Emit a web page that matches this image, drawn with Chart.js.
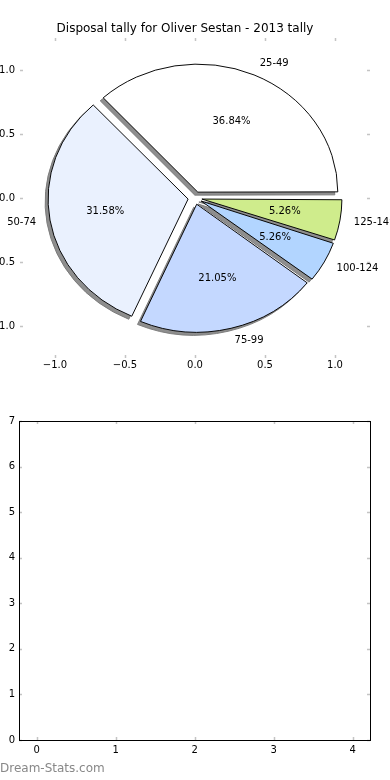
<!DOCTYPE html>
<html>
<head>
<meta charset="utf-8">
<script src="https://cdn.jsdelivr.net/npm/chart.js@4.4.1/dist/chart.umd.min.js"></script>
<style>
  html, body { margin: 0; padding: 0; background: #fff; }
  #wrap { position: relative; width: 390px; height: 780px; overflow: hidden; }
  .layer { position: absolute; left: 0; }
  #mark { position: absolute; left: 0; top: 761px; font: 12px "DejaVu Sans", sans-serif; color: #888; }
</style>
</head>
<body>
<div id="wrap">
  <div class="layer" style="top:0;width:390px;height:380px"><canvas id="axesTop"></canvas></div>
  <div class="layer" style="top:0;width:390px;height:380px"><canvas id="pieShadow"></canvas></div>
  <div class="layer" style="top:0;width:390px;height:380px"><canvas id="pie"></canvas></div>
  <div class="layer" style="top:380px;width:390px;height:400px"><canvas id="empty"></canvas></div>
  <div id="mark">Dream-Stats.com</div>
</div>
<script>
const title = 'Disposal tally for Oliver Sestan - 2013 tally';
const categories = ['25-49', '50-74', '75-99', '100-124', '125-149'];
const tally = [7, 6, 4, 1, 1];
const sliceColors = ['#ffffff', '#eaf1fe', '#c4d8ff', '#b2d5ff', '#cfec8c'];

// pie axes (matplotlib leaves them on)
const pieTicks = [-1, -0.5, 0, 0.5, 1];
const pieLimit = 1.25;
// empty second subplot
const xTicks = [0, 1, 2, 3, 4];
const yTicks = [0, 1, 2, 3, 4, 5, 6, 7];
const xRange = [-0.224, 4.22];
const yRange = [0, 7];

Chart.defaults.font.family = '"DejaVu Sans", sans-serif';
Chart.defaults.font.size = 10;
Chart.defaults.color = '#000';

const fmt = v => (v < 0 ? '\u2212' + Math.abs(v).toFixed(1) : v.toFixed(1));

// inward tick marks on all four sides, like matplotlib classic
const tickMarks = {
  id: 'tickMarks',
  afterDraw(chart, args, opts) {
    const { ctx, chartArea: a, scales } = chart;
    const len = 3;
    ctx.save();
    ctx.strokeStyle = '#c4c4c4';
    ctx.lineWidth = 1.5;
    ctx.beginPath();
    scales.x.ticks.forEach(t => {
      const px = Math.round(scales.x.getPixelForValue(t.value)) + 0.5;
      ctx.moveTo(px, a.top); ctx.lineTo(px, a.top + len);
      ctx.moveTo(px, a.bottom); ctx.lineTo(px, a.bottom - len);
    });
    scales.y.ticks.forEach(t => {
      const py = Math.round(scales.y.getPixelForValue(t.value)) + 0.5;
      ctx.moveTo(a.left, py); ctx.lineTo(a.left + len, py);
      ctx.moveTo(a.right, py); ctx.lineTo(a.right - len, py);
    });
    ctx.stroke();
    if (opts.frame) {
      ctx.strokeStyle = '#000';
      ctx.lineWidth = 1;
      ctx.strokeRect(Math.round(a.left) + 0.5, Math.round(a.top) + 0.5,
        Math.round(a.right - a.left), Math.round(a.bottom - a.top));
    }
    ctx.restore();
  }
};

function axisScales(xr, yr, xt, yt, yWidth, xHeight, labelFmt, yPad, xPad) {
  return {
    x: {
      type: 'linear', min: xr[0], max: xr[1],
      grid: { display: false, drawTicks: false }, border: { display: false },
      afterBuildTicks: s => { s.ticks = xt.map(v => ({ value: v })); },
      afterFit: s => { s.height = xHeight; },
      ticks: { padding: xPad, maxRotation: 0, autoSkip: false, callback: labelFmt }
    },
    y: {
      type: 'linear', min: yr[0], max: yr[1],
      grid: { display: false, drawTicks: false }, border: { display: false },
      afterBuildTicks: s => { s.ticks = yt.map(v => ({ value: v })); },
      afterFit: s => { s.width = yWidth; },
      ticks: { padding: yPad, autoSkip: false, callback: labelFmt }
    }
  };
}

// top: axes behind the pie
new Chart(document.getElementById('axesTop'), {
  type: 'scatter',
  data: { datasets: [{ data: [] }] },
  options: {
    responsive: true, maintainAspectRatio: false, animation: false, events: [],
    layout: { padding: { top: 0, right: 20, bottom: 0, left: 0 } },
    plugins: {
      legend: { display: false }, tooltip: { enabled: false },
      title: {
        display: true, text: title, color: '#000',
        font: { size: 12, weight: 'normal' }, padding: { top: 22, bottom: 1.6 }
      },
      tickMarks: { frame: false }
    },
    scales: axisScales([-pieLimit, pieLimit], [-pieLimit, pieLimit], pieTicks, pieTicks, 20, 22, v => fmt(v), 5, 1)
  },
  plugins: [tickMarks]
});

// pie: the axes are not equal in matplotlib, so the pie is squashed vertically
const pieRadius = 140;
const squash = 128 / 140;
const explode = 28; // chart.js moves a slice by offset / 4
const total = tally.reduce((s, v) => s + v, 0);

function piePlugin(shadow) {
  return {
    id: 'piePlugin',
    beforeDatasetsDraw(chart) {
      const meta = chart.getDatasetMeta(0);
      const base = meta.controller.outerRadius;
      meta.data.forEach(arc => {
        // undo the radius bump chart.js gives small offset slices
        const fix = 1 - Math.sin(Math.min(Math.PI, arc.circumference));
        arc.outerRadius = base - (explode / 4) * fix;
      });
      const { x, y } = meta.data[0];
      const ctx = chart.ctx;
      ctx.save();
      if (shadow) ctx.translate(-3, 3);
      ctx.translate(x, y);
      ctx.scale(1, -squash);
      ctx.translate(-x, -y);
    },
    afterDatasetsDraw(chart) {
      const ctx = chart.ctx;
      ctx.restore();
      if (shadow) return;
      const meta = chart.getDatasetMeta(0);
      const shift = explode / 4;
      ctx.save();
      ctx.fillStyle = '#000';
      ctx.font = '10px "DejaVu Sans", sans-serif';
      ctx.textBaseline = 'middle';
      meta.data.forEach((arc, i) => {
        const { x, y, startAngle, endAngle } = arc.getProps(['x', 'y', 'startAngle', 'endAngle'], true);
        const mid = (startAngle + endAngle) / 2;
        const c = Math.cos(mid), s = Math.sin(mid);
        const pr = 0.6 * pieRadius + shift;
        ctx.textAlign = 'center';
        ctx.fillText((tally[i] / total * 100).toFixed(2) + '%', x + c * pr, y - s * pr * squash);
        const lr = 1.1 * pieRadius + shift;
        ctx.textAlign = c >= 0 ? 'left' : 'right';
        ctx.fillText(categories[i], x + c * lr, y - s * lr * squash);
      });
      ctx.restore();
    }
  };
}

function makePie(id, fill, edge, shadow) {
  return new Chart(document.getElementById(id), {
    type: 'pie',
    data: {
      labels: categories,
      datasets: [{
        data: tally,
        backgroundColor: fill,
        borderColor: edge,
        borderWidth: 1,
        borderJoinStyle: 'miter',
        offset: explode,
        clip: false
      }]
    },
    options: {
      responsive: true, maintainAspectRatio: false, animation: false, events: [],
      radius: pieRadius,
      rotation: 90,
      layout: { padding: { top: 16, right: 0, bottom: 0, left: 0 } },
      plugins: { legend: { display: false }, tooltip: { enabled: false } }
    },
    plugins: [piePlugin(shadow)]
  });
}

makePie('pieShadow', '#8e8e8e', '#7a7a7a', true);
makePie('pie', sliceColors, '#000', false);

// bottom: the empty subplot
new Chart(document.getElementById('empty'), {
  type: 'scatter',
  data: { datasets: [{ data: [] }] },
  options: {
    responsive: true, maintainAspectRatio: false, animation: false, events: [],
    layout: { padding: { top: 41, right: 20, bottom: 0, left: 0 } },
    plugins: { legend: { display: false }, tooltip: { enabled: false }, tickMarks: { frame: true } },
    scales: axisScales(xRange, yRange, xTicks, yTicks, 19, 40, v => String(v), 4, 4)
  },
  plugins: [tickMarks]
});
</script>
</body>
</html>
